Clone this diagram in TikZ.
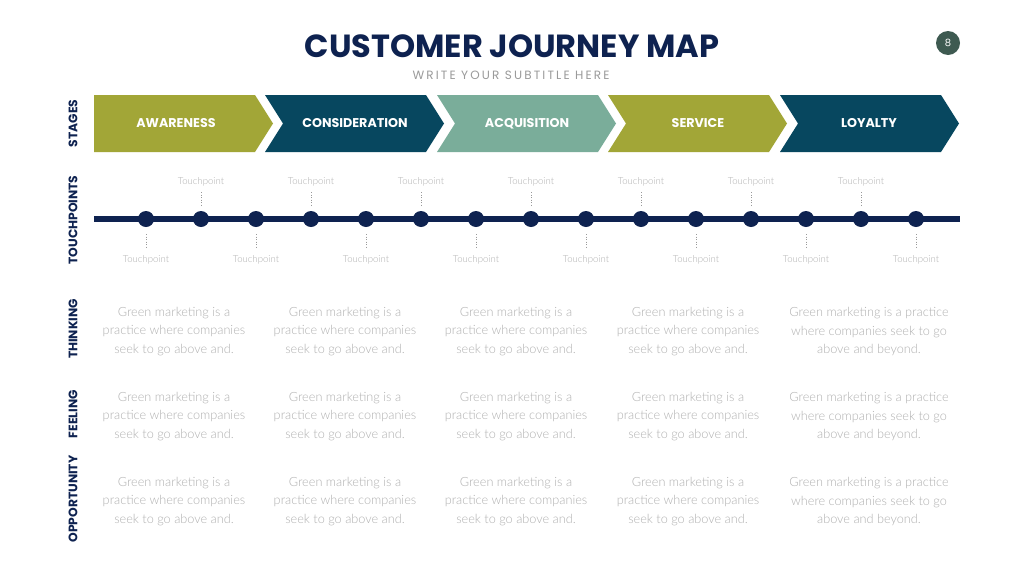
\documentclass[tikz,border=0pt]{standalone}
\usepackage{fontspec}
\setmainfont{Lato}[UprightFont={* Light}]
\newfontfamily\pop{Poppins}
\newfontfamily\popsp{Poppins}[LetterSpace=18]
\usetikzlibrary{calc}
\definecolor{navy}{HTML}{0E2250}
\definecolor{olive}{HTML}{A2A637}
\definecolor{teal}{HTML}{07475F}
\definecolor{sage}{HTML}{7AAD9A}
\definecolor{badge}{HTML}{3E5A51}
\definecolor{lightgray}{HTML}{B0B0B0}
\definecolor{subgray}{HTML}{9A9A9A}
\tikzset{
  stagelabel/.style={text=white, font=\pop\bfseries\fontsize{12.7}{14}\selectfont, inner sep=0pt},
  sidelabel/.style={text=navy, rotate=90, font=\pop\bfseries\fontsize{12.3}{14}\selectfont, inner sep=0pt},
  tpdot/.style={circle, fill=navy, minimum size=16pt, inner sep=0pt},
  tplabel/.style={text=lightgray, font=\fontsize{9.6}{11}\selectfont, inner sep=0pt},
  tpleader/.style={draw=subgray, line width=0.8pt, dash pattern=on 1pt off 1.5pt},
  bodytext/.style={text=lightgray, align=center, font=\fontsize{12.7}{18.5}\selectfont, inner sep=0pt},
}
\begin{document}
\begin{tikzpicture}[x=1pt,y=-1pt]
\useasboundingbox (0,0) rectangle (1024,576);
\fill[white] (0,0) rectangle (1024,576);
% title
\node[text=navy, font=\pop\bfseries\fontsize{32}{36}\selectfont, inner sep=0pt] (title) at (512,46.5) {CUSTOMER JOURNEY MAP};
\node[text=subgray, font=\popsp\fontsize{12}{14}\selectfont, inner sep=0pt] (subtitle) at (511,75.5) {WRITE YOUR SUBTITLE HERE};
\node[circle, fill=badge, minimum size=24pt, inner sep=0pt, text=white, font=\pop\fontsize{10}{12}\selectfont] (badge) at (948,43) {8};
% stages
\fill[olive] (94,95) -- (255,95) -- (273,123.5) -- (255,152) -- (94,152) -- cycle;
\foreach \x/\c in {265/teal,437/sage,608/olive,780/teal}{
  \fill[\c] (\x,95) -- (\x+161,95) -- (\x+179,123.5) -- (\x+161,152) -- (\x,152) -- (\x+18,123.5) -- cycle;
}
\node[stagelabel] (s1) at (176,123.5) {AWARENESS};
\node[stagelabel] (s2) at (355,123.5) {CONSIDERATION};
\node[stagelabel] (s3) at (527,123.5) {ACQUISITION};
\node[stagelabel] (s4) at (698,123.5) {SERVICE};
\node[stagelabel] (s5) at (869,123.5) {LOYALTY};
% side labels
\node[sidelabel] (lstages) at (73,123.5) {STAGES};
\node[sidelabel] (ltouch) at (73,220) {TOUCHPOINTS};
\node[sidelabel] (lthink) at (73,329) {THINKING};
\node[sidelabel] (lfeel) at (73,414) {FEELING};
\node[sidelabel] (lopp) at (73,499) {OPPORTUNITY};
% timeline
\coordinate (tlA) at (94,219);
\coordinate (tlB) at (960,219);
\draw[navy, line width=6.5pt] (tlA) -- (tlB);
\foreach \i in {0,...,14}{
  \node[tpdot] (d\i) at (146+55*\i,219) {};
}
\foreach \i in {1,3,...,13}{
  \node[tplabel] (tu\i) at (146+55*\i,181.5) {Touchpoint};
  \coordinate (tut\i) at (146+55*\i,192);
  \coordinate (tub\i) at (146+55*\i,207);
  \draw[tpleader] (tut\i) -- (tub\i);
}
\foreach \i in {0,2,...,14}{
  \node[tplabel] (tl\i) at (146+55*\i,259.5) {Touchpoint};
  \coordinate (tlt\i) at (146+55*\i,234);
  \coordinate (tlb\i) at (146+55*\i,248);
  \draw[tpleader] (tlt\i) -- (tlb\i);
}
% body texts
\foreach \y/\r in {331.5/a,416.5/b,501.5/c}{
  \foreach \x/\k in {174/1,345/2,516/3,688/4}{
    \node[bodytext] (t\r\k) at (\x,\y) {Green marketing is a\\practice where companies\\seek to go above and.};
  }
  \node[bodytext] (t\r5) at (869,\y) {Green marketing is a practice\\where companies seek to go\\above and beyond.};
}
\end{tikzpicture}
\end{document}
